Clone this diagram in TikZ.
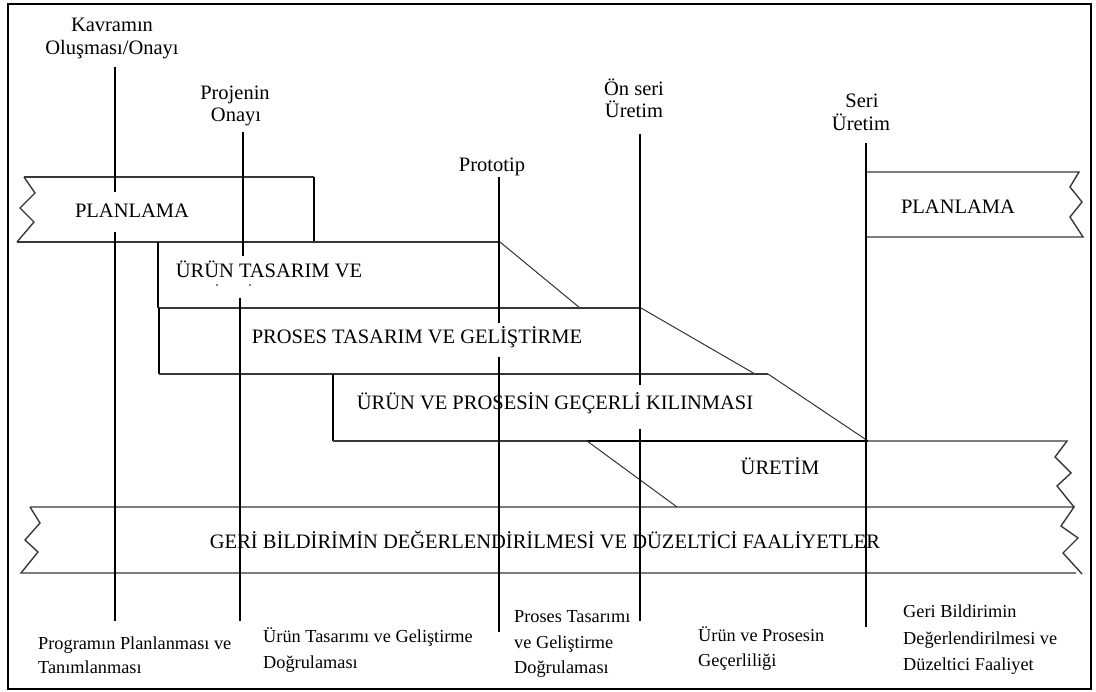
\documentclass[tikz,border=0pt]{standalone}
\usepackage{fontspec}
\setmainfont{Liberation Serif}
\begin{document}
\begin{tikzpicture}[x=1pt,y=-1pt,
  frame/.style={line width=2.4pt, draw=black},
  mile/.style={line width=2pt, draw=black},
  edge/.style={line width=1.4pt, draw=black!78, line join=miter},
  side/.style={line width=2pt, draw=black},
  slant/.style={line width=1pt, draw=black!80},
  bandtxt/.style={font=\fontsize{20.5}{24}\selectfont, inner sep=0pt, anchor=base},
  toplbl/.style={font=\fontsize{20.5}{23}\selectfont, inner sep=0pt, anchor=base},
  botlbl/.style={font=\fontsize{18.3}{25}\selectfont, inner sep=0pt, anchor=base west},
]
\useasboundingbox (0,0) rectangle (1096,692);
\draw[frame] (8,4) rectangle (1091,689);

% ---------- bands ----------
% planning band, left
\draw[edge] (24,177) -- (35,193) -- (20,208) -- (34,222) -- (17,242);
\draw[edge] (24,177) -- (314,177);
\draw[side] (314,177) -- (314,242);
\draw[edge] (17,242) -- (500,242);
\node[bandtxt] (tPlan) at (132,218) {PLANLAMA};

% product design band
\draw[side] (158,242) -- (158,308);
\draw[slant] (500,242) -- (580,308);
\draw[edge] (158,308) -- (641,308);
\node[bandtxt] (tUrun) at (269,278) {ÜRÜN TASARIM VE};
\fill (217,285) circle (0.9pt) (250,285) circle (0.9pt);

% process design band
\draw[side] (159,308) -- (159,374);
\draw[slant] (641,308) -- (755,374);
\draw[edge] (159,374) -- (768,374);
\node[bandtxt] (tProses) at (417,344) {PROSES TASARIM VE GELİŞTİRME};

% validation band
\draw[side] (333,374) -- (333,441);
\draw[slant] (768,374) -- (868,441);
\draw[edge] (333,441) -- (587,441);
\node[bandtxt] (tGecer) at (555,410) {ÜRÜN VE PROSESİN GEÇERLİ KILINMASI};

% production band
\draw[line width=2.4pt] (587,441) -- (868,441);
\draw[edge] (868,441) -- (1067,441) -- (1055,457) -- (1071,473) -- (1057,486) -- (1074,507);
\draw[slant] (587,441) -- (677,507);
\node[bandtxt] (tUretim) at (780,475) {ÜRETİM};

% feedback band
\draw[edge] (30,507) -- (1074,507) -- (1061,526) -- (1078,538) -- (1063,553) -- (1082,574);
\draw[edge] (30,507) -- (40,523) -- (25,540) -- (38,552) -- (21,573) -- (1076,573);
\node[bandtxt] (tGeri) at (545,549) {GERİ BİLDİRİMİN DEĞERLENDİRİLMESİ VE DÜZELTİCİ FAALİYETLER};

% planning band, right
\draw[edge] (866,172) -- (1079,172) -- (1070,187) -- (1082,202) -- (1070,217) -- (1083,237) -- (866,237);
\node[bandtxt] (tPlanR) at (958,214) {PLANLAMA};

% ---------- milestones ----------
\node[toplbl] (kav1) at (112,32) {Kavramın};
\node[toplbl] (kav2) at (112,55) {Oluşması/Onayı};
\coordinate (kavA) at (115,67);  \coordinate (kavB) at (115,192);
\coordinate (kavC) at (115,232); \coordinate (kavD) at (115,621);
\draw[mile] (kavA) -- (kavB) (kavC) -- (kavD);

\node[toplbl] (pro1) at (235,100) {Projenin};
\node[toplbl] (pro2) at (236,122) {Onayı};
\coordinate (proA) at (243,132); \coordinate (proB) at (243,256);
\coordinate (proC) at (240,298); \coordinate (proD) at (240,621);
\draw[mile] (proA) -- (proB) (proC) -- (proD);

\node[toplbl] (pt1) at (492,172) {Prototip};
\coordinate (ptA) at (499,177); \coordinate (ptB) at (499,323);
\coordinate (ptC) at (499,357); \coordinate (ptD) at (499,632);
\draw[mile] (ptA) -- (ptB) (ptC) -- (ptD);

\node[toplbl] (on1) at (634,96) {Ön seri};
\node[toplbl] (on2) at (634,118) {Üretim};
\coordinate (onA) at (640,134); \coordinate (onB) at (640,385);
\coordinate (onC) at (640,429); \coordinate (onD) at (640,621);
\draw[mile] (onA) -- (onB) (onC) -- (onD);

\node[toplbl] (se1) at (862,108) {Seri};
\node[toplbl] (se2) at (861,131) {Üretim};
\coordinate (seA) at (866,143); \coordinate (seD) at (866,627);
\draw[mile] (seA) -- (seD);

% ---------- outcomes ----------
\node[botlbl] (o1a) at (38,649) {Programın Planlanması ve};
\node[botlbl] (o1b) at (38,673) {Tanımlanması};
\node[botlbl] (o2a) at (263,642) {Ürün Tasarımı ve Geliştirme};
\node[botlbl] (o2b) at (263,668) {Doğrulaması};
\node[botlbl] (o3a) at (514,623) {Proses Tasarımı};
\node[botlbl] (o3b) at (514,648) {ve Geliştirme};
\node[botlbl] (o3c) at (514,673) {Doğrulaması};
\node[botlbl] (o4a) at (698,641) {Ürün ve Prosesin};
\node[botlbl] (o4b) at (698,666) {Geçerliliği};
\node[botlbl] (o5a) at (903,617) {Geri Bildirimin};
\node[botlbl] (o5b) at (903,644) {Değerlendirilmesi ve};
\node[botlbl] (o5c) at (903,670) {Düzeltici Faaliyet};
\end{tikzpicture}
\end{document}
